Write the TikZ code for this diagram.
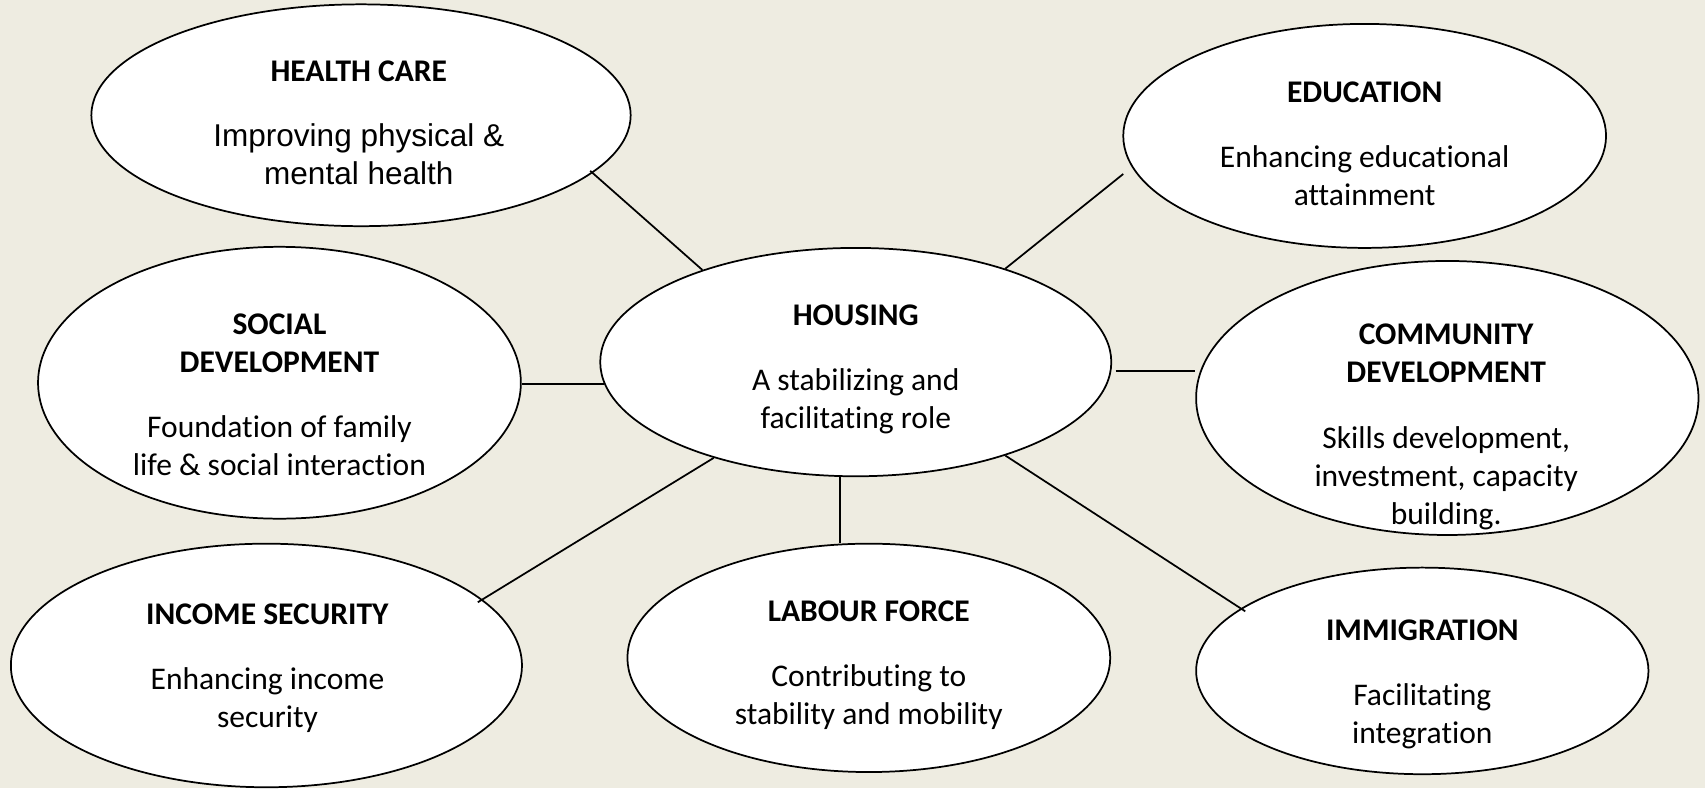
\documentclass[tikz,border=0pt]{standalone}
\usepackage{fontspec}
\setmainfont{Carlito}[Ligatures=NoCommon]
\newfontfamily\arialfont{Liberation Sans}
\usetikzlibrary{shapes.geometric}
\definecolor{bgbeige}{HTML}{EEECE1}
\begin{document}
\begin{tikzpicture}[x=1pt,y=-1pt,
  bubble/.style={ellipse, draw=black, fill=white, line width=1.6pt, inner sep=0pt},
  txt/.style={align=center, font=\fontsize{29}{35}\selectfont, inner sep=0pt},
  link/.style={draw=black, line width=1.6pt}]
\fill[bgbeige] (0,0) rectangle (1568,724.7);
\useasboundingbox (0,0) rectangle (1568,724.7);
% ellipses
\node[bubble, minimum width=496pt, minimum height=204pt] (hc) at (332,106) {};
\node[bubble, minimum width=444pt, minimum height=206pt] (ed) at (1255,125) {};
\node[bubble, minimum width=444pt, minimum height=250pt] (so) at (257,352) {};
\node[bubble, minimum width=470pt, minimum height=210pt] (ho) at (787,333) {};
\node[bubble, minimum width=462pt, minimum height=252pt] (cd) at (1331,366) {};
\node[bubble, minimum width=470pt, minimum height=224pt] (is) at (245,612) {};
\node[bubble, minimum width=444pt, minimum height=210pt] (lf) at (799,605) {};
\node[bubble, minimum width=416pt, minimum height=190pt] (im) at (1308,617) {};
% texts
\node[txt] (hc-t) at (330,113) {\textbf{HEALTH CARE}\\[25pt]{\arialfont Improving physical \&}\\{\arialfont mental health}};
\node[txt] (ed-t) at (1255,132.5) {\textbf{EDUCATION}\\[25pt]Enhancing educational\\attainment};
\node[txt] (so-t) at (257,363) {\textbf{SOCIAL}\\\textbf{DEVELOPMENT}\\[25pt]Foundation of family\\life \& social interaction};
\node[txt] (ho-t) at (787,339.5) {\textbf{HOUSING}\\[25pt]A stabilizing and\\facilitating role};
\node[txt] (cd-t) at (1330,392.5) {\textbf{COMMUNITY}\\\textbf{DEVELOPMENT}\\[25pt]Skills development,\\investment, capacity\\building.};
\node[txt] (is-t) at (246,614.5) {\textbf{INCOME SECURITY}\\[25pt]Enhancing income\\security};
\node[txt] (lf-t) at (799,611.5) {\textbf{LABOUR FORCE}\\[25pt]Contributing to\\stability and mobility};
\node[txt] (im-t) at (1308,629.5) {\textbf{IMMIGRATION}\\[25pt]Facilitating\\integration};
% connectors
\coordinate (ed-end) at (1033,160);
\draw[link, shorten <=-3pt] (hc.-14.7) -- (ho.149.7);
\draw[link] (ed-end) -- (ho.32.1);
\draw[link] (ho.185.2) -- (ho.185.2 -| so.east);
\draw[link, shorten <=4pt] (ho.-2.4) -- (ho.-2.4 -| cd.west);
\draw[link, shorten <=-5pt] (is.17.4) -- (ho.214.1);
\draw[link] (ho.262.4) -- (ho.262.4 |- lf.north);
\draw[link, shorten <=-5pt] (im.161) -- (ho.-32.4);
\end{tikzpicture}
\end{document}
